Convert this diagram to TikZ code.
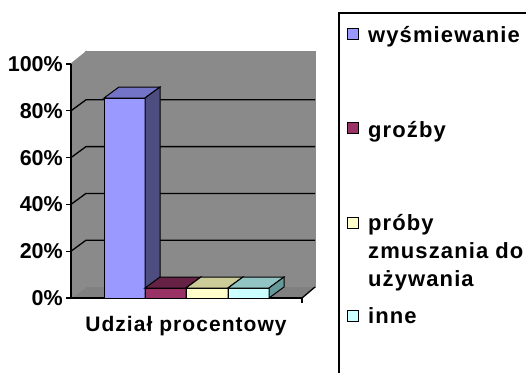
\documentclass[tikz,border=0pt]{standalone}
\usepackage{fontspec}
\setmainfont{Liberation Sans}
\newfontfamily\spacedfont[LetterSpace=5]{Liberation Sans}

\definecolor{wallgray}{HTML}{C0C0C0}
\definecolor{floorgray}{HTML}{808080}
\definecolor{edgegray}{HTML}{8A8A8A}
\definecolor{blueface}{HTML}{9999FF}
\definecolor{bluetop}{HTML}{7373C8}
\definecolor{blueside}{HTML}{4D4D80}
\definecolor{plumface}{HTML}{993366}
\definecolor{plumtop}{HTML}{662244}
\definecolor{plumside}{HTML}{4D1A33}
\definecolor{creamface}{HTML}{FFFFCC}
\definecolor{creamtop}{HTML}{CCCC99}
\definecolor{creamside}{HTML}{808066}
\definecolor{iceface}{HTML}{CCFFFF}
\definecolor{icetop}{HTML}{93C4C4}
\definecolor{iceside}{HTML}{669999}

% one bar: left x, right x, top y, front, top and side colours
\newcommand\chartbar[6]{%
  \filldraw[fill=#4,line width=1pt] (#1,298) rectangle (#2,#3);
  \filldraw[fill=#5,line width=1pt] (#1,#3) -- (#1+15,#3-11) -- (#2+15,#3-11) -- (#2,#3) -- cycle;
  \filldraw[fill=#6,line width=1pt] (#2,#3) -- (#2+15,#3-11) -- (#2+15,287) -- (#2,298) -- cycle;
}

\tikzset{
  ticklabel/.style={anchor=east,inner sep=0pt,font=\fontsize{21.5}{25}\selectfont\bfseries},
  legtext/.style={anchor=base west,inner sep=0pt,align=left,font=\fontsize{22}{28}\selectfont\spacedfont\bfseries},
  swatch/.style={draw=black,line width=1pt,minimum size=11pt,inner sep=0pt},
  gridline/.style={black,line width=1.3pt},
  walledge/.style={edgegray,line width=1.3pt}
}

\begin{document}
\begin{tikzpicture}[x=1pt,y=-1pt]
  \useasboundingbox (0,0) rectangle (526,372);
  \fill[white] (0,0) rectangle (526,372);

  % walls and floor
  \filldraw[fill=wallgray,walledge] (86,52) rectangle (315,287);
  \filldraw[fill=wallgray,walledge] (71,64) -- (86,52) -- (86,287) -- (71,298) -- cycle;
  \fill[floorgray] (71,298) -- (86,287) -- (315,287) -- (302,298) -- cycle;
  \draw[walledge] (71,298) -- (86,287);
  \draw[gridline] (302,298) -- (315,287);

  % grid and axis
  \foreach \p in {20,40,60,80} {
    \draw[gridline] (71,298-2.34*\p) -- (86,287-2.34*\p) -- (315,287-2.34*\p);
  }
  \draw[gridline] (71,64) -- (71,298) -- (302,298) -- (302,303);
  \foreach \p in {0,20,...,100} {
    \draw[gridline] (66,298-2.34*\p) -- (71,298-2.34*\p);
    \node[ticklabel] (tick\p) at (63,298-2.34*\p) {\p\%};
  }

  % bars
  \chartbar{104}{145}{98}{blueface}{bluetop}{blueside}
  \chartbar{145}{186}{288}{plumface}{plumtop}{plumside}
  \chartbar{186}{228}{288}{creamface}{creamtop}{creamside}
  \chartbar{228}{269}{288}{iceface}{icetop}{iceside}

  \node[anchor=base,inner sep=0pt,font=\fontsize{21}{25}\selectfont\spacedfont\bfseries]
    (title) at (186,331) {Udział procentowy};

  % legend
  \draw[line width=1.5pt] (339,380) -- (339,13) -- (530,13);
  \node[swatch,fill=blueface] (keyA) at (353,34) {};
  \node[swatch,fill=plumface] (keyB) at (353,128) {};
  \node[swatch,fill=creamface] (keyC) at (353,223) {};
  \node[swatch,fill=iceface] (keyD) at (353,316) {};
  \node[legtext] (textA) at (368,42) {wyśmiewanie};
  \node[legtext] (textB) at (368,137) {groźby};
  \node[legtext] (textC) at (368,286) {próby\\zmuszania do\\używania};
  \node[legtext] (textD) at (368,323) {inne};
\end{tikzpicture}
\end{document}
